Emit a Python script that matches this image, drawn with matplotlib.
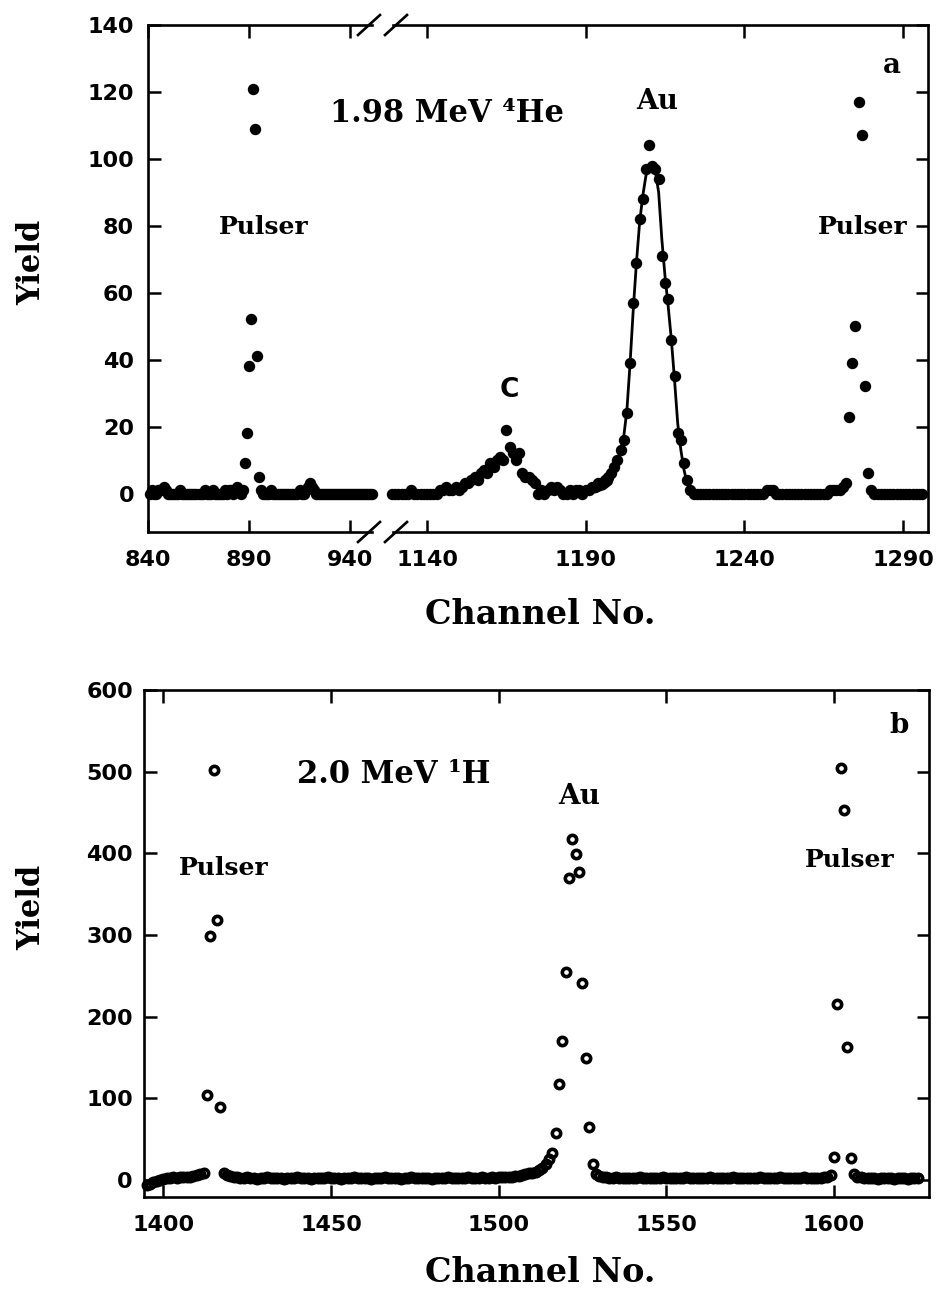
import numpy as np
import matplotlib.pyplot as plt
from matplotlib.lines import Line2D

# ---- panel a : 1.98 MeV 4He (filled dots), broken channel axis ----
a_left_start = 841
a_left_counts = [
    0, 1, 0, 0, 1, 1, 1, 2, 1, 0,
    0, 0, 0, 0, 0, 1, 0, 0, 0, 0,
    0, 0, 0, 0, 0, 0, 0, 1, 0, 0,
    0, 1, 0, 0, 0, 0, 0, 1, 0, 1,
    1, 0, 1, 2, 1, 0, 1,
    9, 18, 38, 52, 121, 109, 41, 5,
    1, 0, 0, 0, 0, 1, 0, 0, 0, 0,
    0, 0, 0, 0, 0, 0, 0, 0, 0, 1,
    0, 0, 1, 2, 3, 2, 1, 0, 0, 0,
    0, 0, 0, 0, 0, 0, 0, 0, 0, 0,
    0, 0, 0, 0, 0, 0, 0, 0, 0, 0,
    0, 0, 0, 0, 0, 0,
]

a_right_start = 1129
a_right_counts = [
    0, 0, 0, 0, 0, 0, 1, 0, 0, 0,
    0, 0, 0, 0, 0, 1, 1, 2, 1, 1,
    2, 1, 2, 3, 3, 4, 5, 4, 6, 7,
    6, 9, 8, 10, 11, 10, 19, 14, 12, 10,
    12, 6, 5, 5, 4, 3, 0, 1, 0, 1,
    2, 1, 2, 1, 0, 0, 1, 0, 1, 1,
    0, 1, 1, 2, 2, 3, 3, 4, 5, 6,
    8, 10, 13, 16, 24, 39, 57, 69, 82, 88,
    97, 104, 98, 97, 94, 71, 63, 58, 46, 35,
    18, 16, 9, 4, 1, 0, 0, 0, 0, 0,
    0, 0, 0, 0, 0, 0, 0, 0, 0, 0,
    0, 0, 0, 0, 0, 0, 0, 0, 1, 1,
    1, 0, 0, 0, 0, 0, 0, 0, 0, 0,
    0, 0, 0, 0, 0, 0, 0, 0, 1, 1,
    1, 1, 2, 3, 23, 39, 50, 117, 107, 32,
    6, 1, 0, 0, 0, 0, 0, 0, 0, 0,
    0, 0, 0, 0, 0, 0, 0, 0,
]

# fitted Au peak (solid line)
fit_ch = [1190, 1193, 1196, 1198, 1199, 1200, 1201, 1202, 1203, 1204, 1205,
          1206, 1207, 1208, 1209, 1210, 1211, 1212, 1213, 1214, 1215, 1216,
          1217, 1218, 1219, 1220, 1221, 1222, 1223, 1225, 1240]
fit_val = [0, 0.5, 1.5, 3, 6, 9, 13, 17, 25, 39, 55,
           69, 81, 89, 95, 98, 98, 96, 90, 76, 65, 56,
           46, 34, 21, 13, 7, 3, 1, 0, 0]

a_xticks_left = [840, 890, 940]
a_xticks_right = [1140, 1190, 1240, 1290]
a_yticks = [0, 20, 40, 60, 80, 100, 120, 140]

# ---- panel b : 2.0 MeV 1H (open circles) ----
b_start = 1395
b_counts = [
    -6, -5, -3, -1, 0, 1, 2, 2, 3, 2, 3, 3, 4, 4, 5, 6, 7, 8,
    104, 299, 502, 318, 89,
    8, 6, 5, 4, 3,
    2, 2, 3, 2, 2, 1, 2, 2, 3, 2,
    2, 2, 2, 1, 2, 2, 2, 3, 2, 2,
    2, 1, 2, 2, 2, 2, 3, 2, 2, 2,
    1, 2, 2, 2, 3, 2, 2, 2, 2, 1,
    2, 2, 2, 3, 2, 2, 2, 2, 1, 2,
    2, 3, 2, 2, 2, 2, 2, 1, 2, 2,
    2, 2, 3, 2, 2, 2, 2, 2, 3, 2,
    2, 2, 3, 2, 2, 3, 2, 3,
    3, 3, 4, 4, 5, 5, 6, 7, 8, 8, 10, 12, 15, 19, 25, 33,
    57, 117, 170, 254, 370, 417, 399, 377, 241, 149, 65, 20,
    7, 5, 4, 3, 2, 2, 3, 2, 2, 2,
    2, 2, 2, 3, 2, 2, 2, 2, 2, 2,
    3, 2, 2, 2, 2, 2, 2, 3, 2, 2,
    2, 2, 2, 2, 3, 2, 2, 2, 2, 2,
    2, 3, 2, 2, 2, 2, 2, 2, 2, 3,
    2, 2, 2, 2, 2, 3, 2, 2, 2, 2,
    2, 2, 3, 2, 2, 2, 2, 2, 3, 4,
    6, 28, 215, 504, 453, 163, 27, 7,
    4, 3, 2, 2, 2, 2, 1, 2, 2, 2,
    2, 1, 2, 2, 2, 1, 2, 2, 2,
]
b_xticks = [1400, 1450, 1500, 1550, 1600]
b_yticks = [0, 100, 200, 300, 400, 500, 600]

W, H = 940, 1306
SERIF = 'DejaVu Serif'
plt.rcParams['font.family'] = 'DejaVu Sans'
plt.rcParams['font.weight'] = 'bold'


def px_box(x0, x1, y0, y1):
    return [x0 / W, 1 - y1 / H, (x1 - x0) / W, (y1 - y0) / H]


def style(ax, ypad):
    ax.tick_params(direction='in', length=9, width=1.8, top=True, right=True,
                   labelsize=16)
    ax.tick_params(axis='x', pad=13)
    ax.tick_params(axis='y', pad=ypad)
    for sp in ax.spines.values():
        sp.set_linewidth(1.9)
    ax.patch.set_visible(False)


fig = plt.figure(figsize=(W / 100, H / 100), dpi=100)

ax_l = fig.add_axes(px_box(148, 372, 25, 532))
ax_r = fig.add_axes(px_box(393, 928, 25, 532))
ax_b = fig.add_axes(px_box(144, 929, 690, 1197))

for ax in (ax_l, ax_r):
    style(ax, 10)
    ax.set_ylim(-11.5, 140)
    ax.set_yticks(a_yticks)
style(ax_b, 8)

ax_l.spines['right'].set_visible(False)
ax_l.tick_params(right=False)
ax_r.spines['left'].set_visible(False)
ax_r.tick_params(left=False, labelleft=False)

ch_l = np.arange(a_left_start, a_left_start + len(a_left_counts))
ch_r = np.arange(a_right_start, a_right_start + len(a_right_counts))
ch_b = np.arange(b_start, b_start + len(b_counts))

ax_l.plot(ch_l, a_left_counts, 'o', color='k', ms=7.2, clip_on=False)
ax_r.plot(ch_r, a_right_counts, 'o', color='k', ms=7.2, clip_on=False)
ax_r.plot(fit_ch, fit_val, '-', color='k', lw=2.0)

ax_l.set_xlim(840, 840 + 224 / 2.02)
ax_l.set_xticks(a_xticks_left)
ax_r.set_xlim(1140 - 34 / 3.173, 1290 + 25 / 3.173)
ax_r.set_xticks(a_xticks_right)

# break marks on the channel axis
for x, y in [(369, 25), (396, 25), (369, 532), (396, 532)]:
    fig.add_artist(Line2D([(x - 11) / W, (x + 11) / W],
                          [1 - (y + 10) / H, 1 - (y - 10) / H],
                          color='k', lw=1.9, transform=fig.transFigure))

ax_b.plot(ch_b, b_counts, 'o', mfc='none', mec='k', ms=6, mew=2.6,
          clip_on=False)
ax_b.set_xlim(1400 - 19.3 / 3.354, 1600 + 95 / 3.354)
ax_b.set_ylim(-21, 600)
ax_b.set_xticks(b_xticks)
ax_b.set_yticks(b_yticks)

# annotations
ax_l.text(897.5, 79.5, 'Pulser', ha='center', va='center', family=SERIF,
          fontsize=18, weight='bold')
ax_r.text(1109.4, 113.5, '1.98 MeV \u2074He', ha='left', va='center',
          family=SERIF, fontsize=22, weight='bold')
ax_r.text(1212.5, 117, 'Au', ha='center', va='center', family=SERIF,
          fontsize=20, weight='bold')
ax_r.text(1165.8, 31, 'C', ha='center', va='center', fontsize=19)
ax_r.text(1286.5, 128, 'a', ha='center', va='center', family=SERIF,
          fontsize=20, weight='bold')
ax_r.text(1277.4, 79.7, 'Pulser', ha='center', va='center', family=SERIF,
          fontsize=18, weight='bold')

ax_b.text(1439.9, 496, '2.0 MeV \u00b9H', ha='left', va='center',
          family=SERIF, fontsize=22, weight='bold')
ax_b.text(1523.9, 469, 'Au', ha='center', va='center', family=SERIF,
          fontsize=20, weight='bold')
ax_b.text(1418.1, 381.6, 'Pulser', ha='center', va='center', family=SERIF,
          fontsize=18, weight='bold')
ax_b.text(1604.7, 392, 'Pulser', ha='center', va='center', family=SERIF,
          fontsize=18, weight='bold')
ax_b.text(1619.3, 556, 'b', ha='center', va='center', family=SERIF,
          fontsize=20, weight='bold')

for yc in (614, 1272):
    fig.text(540 / W, 1 - yc / H, 'Channel No.', ha='center', va='center',
             family=SERIF, fontsize=24, weight='bold')
for yc in (262, 907):
    fig.text(32 / W, 1 - yc / H, 'Yield', ha='center', va='center',
             rotation=90, family=SERIF, fontsize=22, weight='bold')

fig.savefig('out.png', dpi=100)
